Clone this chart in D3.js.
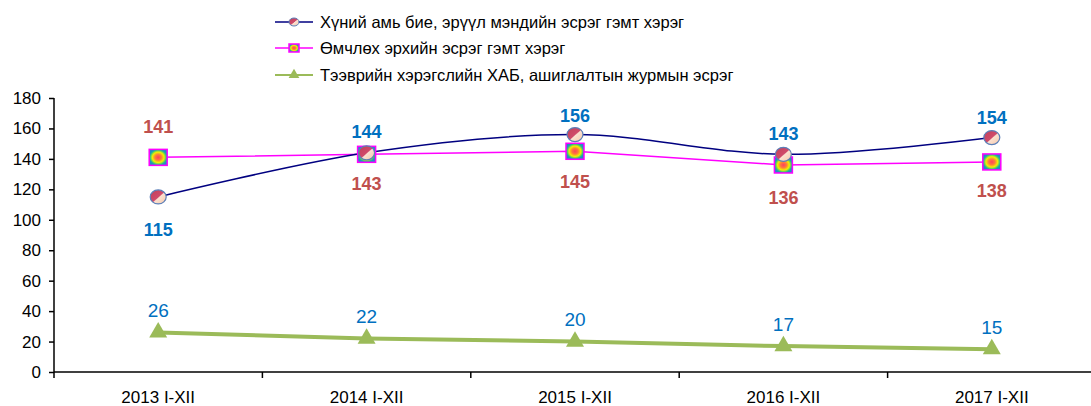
<!DOCTYPE html>
<html>
<head>
<meta charset="utf-8">
<script src="https://d3js.org/d3.v7.min.js"></script>
<style>
    body { margin: 0; background: #fff; }
    svg text { font-family: "Liberation Sans", Arial, sans-serif; }
    .tick text { font-size: 17px; fill: #000; }
    .legend text { font-size: 16.5px; fill: #000; }
</style>
</head>
<body>
<div id="chart"></div>
<script>
    const categories = ["2013 I-XII", "2014 I-XII", "2015 I-XII", "2016 I-XII", "2017 I-XII"];
    const seriesNames = [
        "Хүний амь бие, эрүүл мэндийн эсрэг гэмт хэрэг",
        "Өмчлөх эрхийн эсрэг гэмт хэрэг",
        "Тээврийн хэрэгслийн ХАБ, ашиглалтын журмын эсрэг"
    ];
    const lifeCrimes = [115, 144, 156, 143, 154];
    const propertyCrimes = [141, 143, 145, 136, 138];
    const trafficCrimes = [26, 22, 20, 17, 15];
    const yTicks = [0, 20, 40, 60, 80, 100, 120, 140, 160, 180];

    const width = 1091, height = 406;
    const svg = d3.select("#chart").append("svg")
        .attr("width", width)
        .attr("height", height);

    const defs = svg.append("defs");
    const rg = defs.append("radialGradient").attr("id", "sqFill");
    rg.append("stop").attr("offset", "0%").attr("stop-color", "#ff4060");
    rg.append("stop").attr("offset", "35%").attr("stop-color", "#ff7a3a");
    rg.append("stop").attr("offset", "65%").attr("stop-color", "#f2f000");
    rg.append("stop").attr("offset", "90%").attr("stop-color", "#30c080");
    rg.append("stop").attr("offset", "100%").attr("stop-color", "#2090c0");
    const lg = defs.append("linearGradient").attr("id", "circFill")
        .attr("x1", "0%").attr("y1", "0%").attr("x2", "100%").attr("y2", "100%");
    lg.append("stop").attr("offset", "0%").attr("stop-color", "#c0405a");
    lg.append("stop").attr("offset", "50%").attr("stop-color", "#d04a6a");
    lg.append("stop").attr("offset", "55%").attr("stop-color", "#fbe0d0");
    lg.append("stop").attr("offset", "100%").attr("stop-color", "#f6c8a8");

    const x = d3.scaleBand().domain(categories).range([54, 1096]);
    const y = d3.scaleLinear().domain([0, 180]).range([372, 98]);
    const cx = d => x(d) + x.bandwidth() / 2;

    // axes
    svg.append("g")
        .attr("transform", "translate(54,0)")
        .call(d3.axisLeft(y).tickValues(yTicks).tickSize(5).tickPadding(8))
        .call(g => g.selectAll("path, line").attr("stroke", "#000").attr("stroke-width", 1.5))
        .call(g => g.select(".domain").attr("d", "M0,98V372"));

    const xAxis = svg.append("g")
        .attr("transform", "translate(0,372)")
        .call(d3.axisBottom(x).tickSize(0).tickPadding(19))
        .call(g => g.select(".domain").attr("stroke", "#000").attr("stroke-width", 1.5).attr("d", "M54,0H1096"));
    xAxis.selectAll(".bound").data(categories).enter().append("line")
        .attr("x1", d => x(d)).attr("x2", d => x(d))
        .attr("y1", 0).attr("y2", 6)
        .attr("stroke", "#000").attr("stroke-width", 1.5);

    // series lines
    const line = d3.line().x((d, i) => cx(categories[i])).y(d => y(d));

    svg.append("path").datum(trafficCrimes)
        .attr("d", line)
        .attr("fill", "none").attr("stroke", "#9bbb59").attr("stroke-width", 4);

    svg.append("path").datum(propertyCrimes)
        .attr("d", line)
        .attr("fill", "none").attr("stroke", "#ff00ff").attr("stroke-width", 1.5);

    svg.append("path").datum(lifeCrimes)
        .attr("d", line.curve(d3.curveCatmullRom))
        .attr("fill", "none").attr("stroke", "#000080").attr("stroke-width", 1.5);

    // markers
    const tri = d3.symbol().type(d3.symbolTriangle).size(140);
    svg.append("g").selectAll("path").data(trafficCrimes).enter().append("path")
        .attr("d", tri)
        .attr("transform", (d, i) => `translate(${cx(categories[i])},${y(d)})`)
        .attr("fill", "#9bbb59");

    svg.append("g").selectAll("rect").data(propertyCrimes).enter().append("rect")
        .attr("x", (d, i) => cx(categories[i]) - 9)
        .attr("y", d => y(d) - 8)
        .attr("width", 18).attr("height", 16)
        .attr("fill", "url(#sqFill)")
        .attr("stroke", "#ff00ff").attr("stroke-width", 1.5);

    svg.append("g").selectAll("ellipse").data(lifeCrimes).enter().append("ellipse")
        .attr("cx", (d, i) => cx(categories[i]))
        .attr("cy", d => y(d))
        .attr("rx", 8).attr("ry", 7)
        .attr("fill", "url(#circFill)")
        .attr("stroke", "#5b7fb8").attr("stroke-width", 1.2);

    // data labels
    const lifeOffset = [33, -21, -19, -21, -20];
    const propOffset = [-31, 29, 30, 33, 29];
    svg.append("g").selectAll("text").data(lifeCrimes).enter().append("text")
        .attr("x", (d, i) => cx(categories[i]))
        .attr("y", (d, i) => y(d) + lifeOffset[i])
        .attr("text-anchor", "middle").attr("dy", "0.35em")
        .attr("font-size", 18).attr("font-weight", "bold").attr("fill", "#0070c0")
        .text(d => d);

    svg.append("g").selectAll("text").data(propertyCrimes).enter().append("text")
        .attr("x", (d, i) => cx(categories[i]))
        .attr("y", (d, i) => y(d) + propOffset[i])
        .attr("text-anchor", "middle").attr("dy", "0.35em")
        .attr("font-size", 18).attr("font-weight", "bold").attr("fill", "#c0504d")
        .text(d => d);

    svg.append("g").selectAll("text").data(trafficCrimes).enter().append("text")
        .attr("x", (d, i) => cx(categories[i]))
        .attr("y", d => y(d) - 22)
        .attr("text-anchor", "middle").attr("dy", "0.35em")
        .attr("font-size", 19).attr("fill", "#0070c0")
        .text(d => d);

    // legend
    const legend = svg.append("g").attr("class", "legend");
    const rows = [22, 48, 75];
    rows.forEach((ry, i) => {
        const lineColor = ["#000080", "#ff00ff", "#9bbb59"][i];
        legend.append("line").attr("x1", 275).attr("x2", 313).attr("y1", ry).attr("y2", ry)
            .attr("stroke", lineColor).attr("stroke-width", i === 2 ? 2 : 1.5);
        legend.append("text").attr("x", 320).attr("y", ry).attr("dy", "0.35em").text(seriesNames[i]);
    });
    legend.append("ellipse").attr("cx", 294).attr("cy", rows[0]).attr("rx", 5).attr("ry", 4)
        .attr("fill", "url(#circFill)").attr("stroke", "#5b7fb8");
    legend.append("rect").attr("x", 289).attr("y", rows[1] - 4).attr("width", 10).attr("height", 8)
        .attr("fill", "url(#sqFill)").attr("stroke", "#ff00ff").attr("stroke-width", 1.5);
    legend.append("path").attr("d", d3.symbol().type(d3.symbolTriangle).size(50))
        .attr("transform", `translate(294,${rows[2]})`).attr("fill", "#9bbb59");
</script>
</body>
</html>
